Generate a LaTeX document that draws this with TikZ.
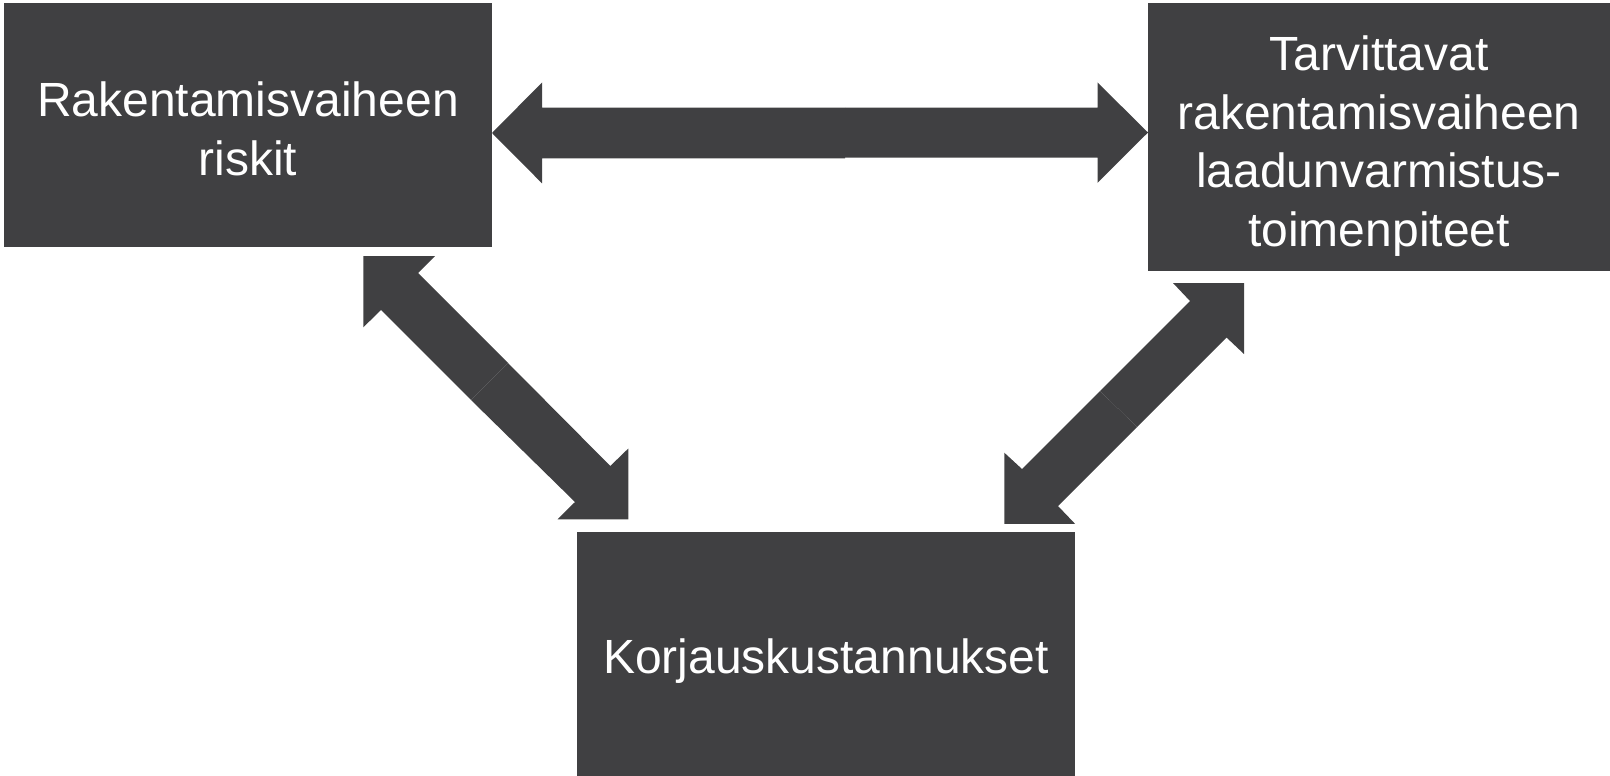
\documentclass[tikz,border=0pt]{standalone}
\usepackage{fontspec}
\setmainfont{Liberation Sans}
\definecolor{boxgray}{RGB}{64,64,66}
\tikzset{
  box/.style={rectangle, fill=boxgray, text=white, inner sep=0pt, align=center,
    font={\fontsize{48}{58.5}\selectfont}},
  blockarrow/.style={fill=boxgray, draw=none}
}
\begin{document}
\begin{tikzpicture}[x=1pt,y=-1pt]
\useasboundingbox (0,0) rectangle (1610,776);
% boxes
\node[box, minimum width=488pt, minimum height=244pt] (risk) at (248,125) {};
\node[box] (risktxt) at (248,129) {Rakentamisvaiheen\\riskit};
\node[box, minimum width=462pt, minimum height=268pt] (qa) at (1379,137) {};
\node[box] (qatxt) at (1379,146) {Tarvittavat\\rakentamisvaiheen\\laadunvarmistus-\\toimenpiteet};
\node[box, minimum width=498pt, minimum height=244pt] (cost) at (826,654) {};
\node[box] (costtxt) at (826,661) {Korjauskustannukset};
% horizontal double arrow (two halves)
\fill[blockarrow] (492,133) -- (542,82.5) -- (542,107.5) -- (845,107.5) -- (845,158.3) -- (542,158.3) -- (542,183.3) -- cycle;
\fill[blockarrow] (845,107.5) -- (1097.5,107.5) -- (1097.5,82.5) -- (1148,132.5) -- (1097.5,182.8) -- (1097.5,157.5) -- (845,157.5) -- cycle;
% left diagonal double arrow
\fill[blockarrow] (363.3,256) -- (435,256) -- (418,273) -- (508,363) -- (471,400) -- (381,310) -- (363.3,327.3) -- cycle;
\fill[blockarrow] (508,363) -- (610.3,466) -- (628.3,448.5) -- (628.3,519.3) -- (557.5,519.3) -- (575,502) -- (471,400) -- cycle;
% right diagonal double arrow
\fill[blockarrow] (1244,283) -- (1244,354) -- (1226.5,337.5) -- (1137,427) -- (1100,391) -- (1190,301) -- (1173,283) -- cycle;
\fill[blockarrow] (1100,391) -- (1137,427) -- (1058,506) -- (1075,523.8) -- (1004.3,523.8) -- (1004.3,452.7) -- (1022,469) -- cycle;
\end{tikzpicture}
\end{document}
